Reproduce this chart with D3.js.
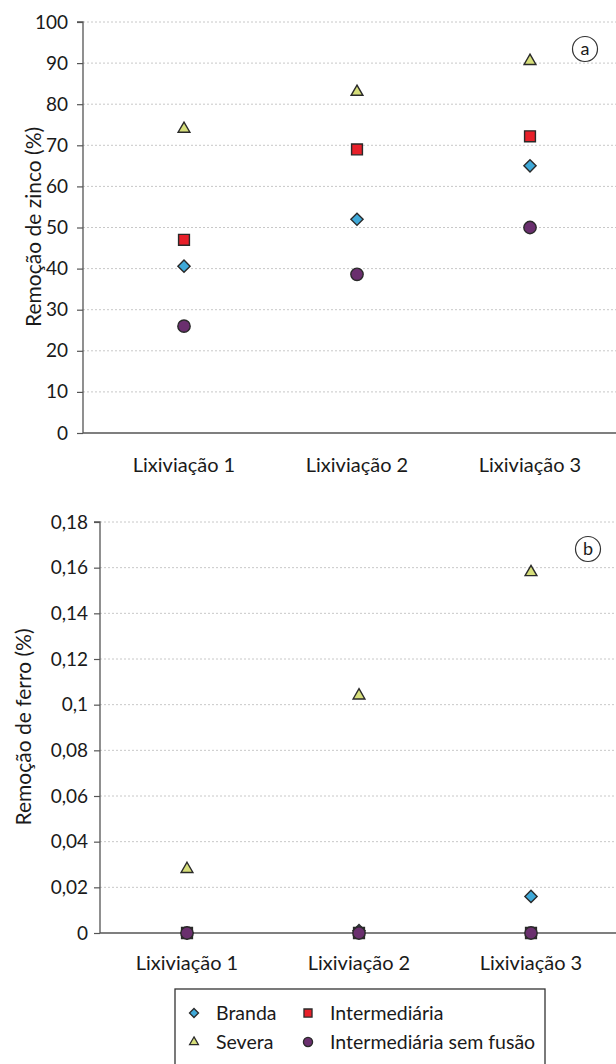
<!DOCTYPE html>
<html><head><meta charset="utf-8">
<script src="https://cdn.jsdelivr.net/npm/d3@7"></script>
<style>body{margin:0;background:#fff}svg{display:block;font-family:Lato,"Open Sans",sans-serif}</style>
</head><body>
<svg id="c" width="616" height="1064"></svg>
<script>
const categories = ["Lixiviação 1", "Lixiviação 2", "Lixiviação 3"];
const seriesNames = ["Branda", "Intermediária", "Severa", "Intermediária sem fusão"];
// Zinco (%)
const zincBranda = [40.6, 52, 65];
const zincIntermediaria = [47, 69, 72.2];
const zincSevera = [74, 83, 90.5];
const zincSemFusao = [26, 38.6, 50];
// Ferro (%)
const ferroBranda = [0, 0.001, 0.016];
const ferroIntermediaria = [0, 0, 0];
const ferroSevera = [0.028, 0.104, 0.158];
const ferroSemFusao = [0, 0, 0];
const zincTicks = [0,10,20,30,40,50,60,70,80,90,100];
const ferroTicks = [0,0.02,0.04,0.06,0.08,0.1,0.12,0.14,0.16,0.18];
const ferroTickLabels = ["0","0,02","0,04","0,06","0,08","0,1","0,12","0,14","0,16","0,18"];

const styles = {
  "Branda": {sym: d3.symbolDiamond2, fill: "#3fa9d8", size: 95},
  "Intermediária": {sym: d3.symbolSquare2, fill: "#e8202a", size: 150},
  "Severa": {sym: d3.symbolTriangle2, fill: "#d6de7a", size: 100},
  "Intermediária sem fusão": {sym: d3.symbolCircle, fill: "#6a2f6e", size: 120}
};
const svg = d3.select("#c");
const axisColor = "#555";
const textColor = "#1a1a1a";

function panel(opts) {
  const g = svg.append("g");
  const y = d3.scaleLinear().domain(opts.domain).range([opts.bottom, opts.top]);
  const x = d3.scalePoint().domain(categories).range(opts.xr);
  // grid
  g.selectAll(".grid").data(opts.ticks.filter(t => t > 0)).join("line")
    .attr("x1", opts.left).attr("x2", 616).attr("y1", d => y(d)).attr("y2", d => y(d))
    .attr("stroke", "#c8c8c8").attr("stroke-width", 1).attr("stroke-dasharray", "2,2");
  // y axis
  const ya = d3.axisLeft(y).tickValues(opts.ticks).tickSize(6).tickPadding(opts.pad)
    .tickFormat((d, i) => opts.labels[i]);
  const yg = g.append("g").attr("transform", `translate(${opts.left},0)`).call(ya);
  yg.attr("font-family", null).attr("font-size", null);
  yg.select(".domain").attr("stroke", axisColor).attr("stroke-width", 1.3).attr("d", `M-6,${opts.top}H0V${opts.bottom}`);
  yg.selectAll(".tick line").attr("stroke", axisColor).attr("stroke-width", 1.2);
  yg.selectAll(".tick text").attr("font-size", 19).attr("fill", textColor);
  // x axis line
  g.append("line").attr("x1", opts.left).attr("x2", 616).attr("y1", opts.bottom).attr("y2", opts.bottom)
    .attr("stroke", axisColor).attr("stroke-width", 1.5);
  // x labels
  g.selectAll(".xl").data(categories).join("text")
    .attr("x", d => x(d)).attr("y", opts.labelY).attr("text-anchor", "middle")
    .attr("font-size", 20).attr("fill", textColor).text(d => d);
  // y title
  g.append("text").attr("transform", `translate(${opts.titleX},${opts.titleY}) rotate(-90)`)
    .attr("text-anchor", "middle").attr("font-size", 21).attr("fill", textColor).text(opts.title);
  // markers
  const order = ["Severa", "Intermediária", "Branda", "Intermediária sem fusão"];
  order.forEach(name => {
    const st = styles[name];
    g.selectAll(null).data(opts.data[name]).join("path")
      .attr("transform", (d, i) => `translate(${x(categories[i])},${y(d)})`)
      .attr("d", d3.symbol(st.sym, st.size)())
      .attr("fill", st.fill).attr("stroke", "#2a2a2a").attr("stroke-width", 1.4);
  });
  // circled letter
  g.append("circle").attr("cx", opts.letterX).attr("cy", opts.letterY).attr("r", 12.5)
    .attr("fill", "#fff").attr("stroke", "#333").attr("stroke-width", 1.2);
  g.append("text").attr("x", opts.letterX).attr("y", opts.letterY + 6).attr("text-anchor", "middle")
    .attr("font-size", 18).attr("fill", textColor).text(opts.letter);
}

panel({
  domain: [0, 100], top: 22, bottom: 433, left: 83, xr: [184, 530], pad: 9,
  ticks: zincTicks, labels: zincTicks.map(String), labelY: 472, titleX: 41, titleY: 227,
  title: "Remoção de zinco (%)", letter: "a", letterX: 585, letterY: 49,
  data: {"Branda": zincBranda, "Intermediária": zincIntermediaria, "Severa": zincSevera, "Intermediária sem fusão": zincSemFusao}
});
panel({
  domain: [0, 0.18], top: 522, bottom: 933, left: 100, xr: [187, 531], pad: 6,
  ticks: ferroTicks, labels: ferroTickLabels, labelY: 970, titleX: 31, titleY: 727,
  title: "Remoção de ferro (%)", letter: "b", letterX: 588, letterY: 549,
  data: {"Branda": ferroBranda, "Intermediária": ferroIntermediaria, "Severa": ferroSevera, "Intermediária sem fusão": ferroSemFusao}
});

// legend
const lg = svg.append("g");
lg.append("rect").attr("x", 175).attr("y", 989).attr("width", 370).attr("height", 90)
  .attr("fill", "#fff").attr("stroke", "#333").attr("stroke-width", 1.3);
const legendItems = [
  {name: seriesNames[0], x: 194, y: 1013},
  {name: seriesNames[1], x: 308, y: 1013},
  {name: seriesNames[2], x: 194, y: 1042},
  {name: seriesNames[3], x: 308, y: 1042}
];
legendItems.forEach(it => {
  const st = styles[it.name];
  lg.append("path").attr("transform", `translate(${it.x},${it.y})`)
    .attr("d", d3.symbol(st.sym, st.size * 0.55)())
    .attr("fill", st.fill).attr("stroke", "#2a2a2a").attr("stroke-width", 1.3);
  lg.append("text").attr("x", it.x + 22).attr("y", it.y + 7).attr("font-size", 19.5)
    .attr("fill", textColor).text(it.name);
});
</script>
</body></html>
